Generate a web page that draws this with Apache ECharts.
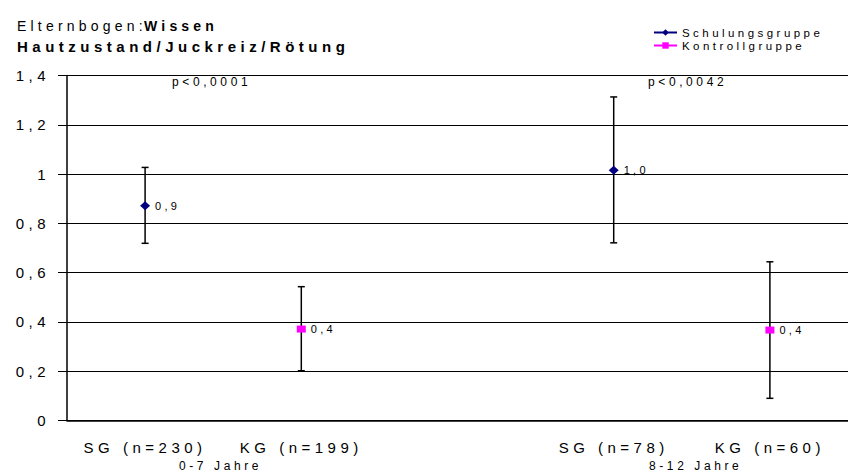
<!DOCTYPE html>
<html>
<head>
<meta charset="utf-8">
<script src="https://cdn.jsdelivr.net/npm/echarts@6/dist/echarts.min.js"></script>
<style>
    html, body { margin: 0; padding: 0; background: #fff; }
    #main { width: 848px; height: 475px; }
    /* original chart uses wide letter spacing everywhere */
    #main svg text { letter-spacing: 0.3em; }
</style>
</head>
<body>
<div id="main"></div>
<script>
// categories (empty slot separates the two age groups)
var xLabels = ['SG (n=230)', 'KG (n=199)', '', 'SG (n=78)', 'KG (n=60)'];
var ageGroups = ['0-7 Jahre', '8-12 Jahre'];
var pValues = ['p<0,0001', 'p<0,0042'];

var sgValues = [0.871, null, null, 1.016, null];
var kgValues = [null, 0.371, null, null, 0.367];
var errLow  = [0.719, 0.202, null, 0.721, 0.090];
var errHigh = [1.027, 0.543, null, 1.313, 0.644];

var FONT = '"Liberation Sans", Arial, sans-serif';

// axis: 1,4 / 1 / 0  -- data labels: always one decimal
function comma(v){
    return String(+v.toFixed(1)).replace('.', ',');
}
function comma1(v){
    return v.toFixed(1).replace('.', ',');
}

var dom = document.getElementById('main');
var myChart = echarts.init(dom, null, {renderer: 'svg'});

var errData = [];
for (var i = 0; i < errLow.length; i++) {
    if (errLow[i] != null) errData.push([i, errLow[i], errHigh[i]]);
}

var option = {
    backgroundColor: '#fff',
    animation: false,
    textStyle: {fontFamily: FONT, color: '#000'},
    title: [
        {text: 'Elternbogen:', left: 12, top: 14, textStyle: {fontSize: 14, fontWeight: 'normal', color: '#000', fontFamily: FONT}},
        {text: 'Wissen', left: 139, top: 14, textStyle: {fontSize: 14, fontWeight: 'bold', color: '#000', fontFamily: FONT}},
        {text: 'Hautzustand/Juckreiz/Rötung', left: 12, top: 34, textStyle: {fontSize: 15, fontWeight: 'bold', color: '#000', fontFamily: FONT}}
    ],
    legend: {
        orient: 'vertical',
        left: 648,
        top: 21,
        itemWidth: 23,
        itemHeight: 8,
        itemGap: 0,
        textStyle: {fontSize: 11.5, color: '#000', fontFamily: FONT, lineHeight: 13},
        data: ['Schulungsgruppe', 'Kontrollgruppe']
    },
    grid: {left: 67, right: -11, top: 75.5, bottom: 54.5},
    xAxis: {
        type: 'category',
        data: xLabels,
        boundaryGap: true,
        axisLine: {lineStyle: {color: '#000', width: 1.5}},
        axisTick: {show: false},
        axisLabel: {interval: 0, fontSize: 15, color: '#000', margin: 19, fontFamily: FONT},
        splitLine: {show: false}
    },
    yAxis: {
        type: 'value',
        min: 0,
        max: 1.4,
        interval: 0.2,
        axisLine: {show: true, lineStyle: {color: '#000', width: 1.5}},
        axisTick: {show: true, length: 9, lineStyle: {color: '#000'}},
        axisLabel: {fontSize: 15, color: '#000', margin: 17, fontFamily: FONT, formatter: comma},
        splitLine: {show: true, lineStyle: {color: '#000', width: 1}}
    },
    graphic: [
        {type: 'text', left: 172, top: 76, style: {text: pValues[0], font: '12px ' + FONT, fill: '#000'}},
        {type: 'text', left: 648, top: 76, style: {text: pValues[1], font: '12px ' + FONT, fill: '#000'}},
        {type: 'text', left: 179, top: 460, style: {text: ageGroups[0], font: '12px ' + FONT, fill: '#000'}},
        {type: 'text', left: 649, top: 460, style: {text: ageGroups[1], font: '12px ' + FONT, fill: '#000'}}
    ],
    series: [
        {
            type: 'custom',
            name: 'err',
            data: errData,
            z: 1,
            renderItem: function(params, api){
                var lo = api.coord([api.value(0), api.value(1)]);
                var hi = api.coord([api.value(0), api.value(2)]);
                var w = 3.5;
                var st = {stroke: '#000', lineWidth: 1.5};
                return {type: 'group', children: [
                    {type: 'line', shape: {x1: hi[0], y1: hi[1], x2: lo[0], y2: lo[1]}, style: st},
                    {type: 'line', shape: {x1: hi[0] - w, y1: hi[1], x2: hi[0] + w, y2: hi[1]}, style: st},
                    {type: 'line', shape: {x1: lo[0] - w, y1: lo[1], x2: lo[0] + w, y2: lo[1]}, style: st}
                ]};
            }
        },
        {
            name: 'Schulungsgruppe',
            type: 'line',
            z: 3,
            data: sgValues,
            connectNulls: false,
            symbol: 'diamond',
            symbolSize: [10, 9],
            itemStyle: {color: '#000080'},
            lineStyle: {color: '#000080', width: 1},
            label: {show: true, position: 'right', distance: 5, fontSize: 11, color: '#000', fontFamily: FONT,
                formatter: function(p){ return comma1(p.value); }}
        },
        {
            name: 'Kontrollgruppe',
            type: 'line',
            z: 3,
            data: kgValues,
            connectNulls: false,
            symbol: 'rect',
            symbolSize: [9, 7],
            itemStyle: {color: '#FF00FF'},
            lineStyle: {color: '#FF00FF', width: 1},
            label: {show: true, position: 'right', distance: 5, fontSize: 11, color: '#000', fontFamily: FONT,
                formatter: function(p){ return comma1(p.value); }}
        }
    ]
};

myChart.setOption(option, true);
</script>
</body>
</html>
